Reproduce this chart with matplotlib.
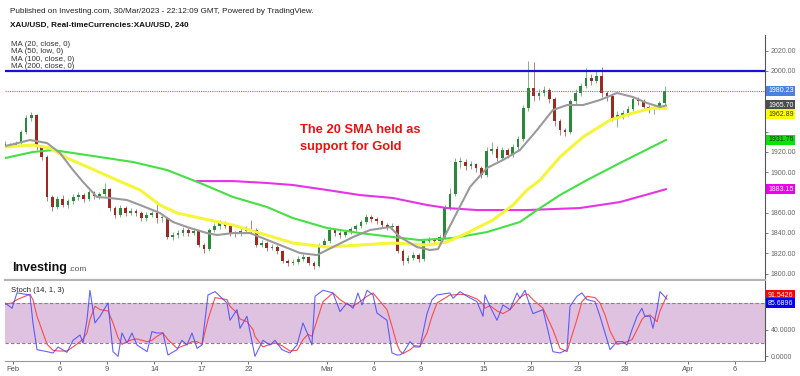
import numpy as np
import matplotlib.pyplot as plt

plt.rcParams['font.family'] = ['Liberation Sans', 'DejaVu Sans']

# XAU/USD candles, three per trading day (x axis = trading days since Feb 1)
first_open = 1927
closes = [1928, 1927, 1929, 1940, 1953, 1956, 1925, 1915, 1875, 1866,
          1874, 1868, 1872, 1875, 1877, 1874, 1880, 1876, 1878, 1883,
          1865, 1858, 1865, 1860, 1862, 1860, 1855, 1858, 1860, 1855,
          1855, 1836, 1838, 1840, 1843, 1840, 1842, 1828, 1824, 1843,
          1847, 1850, 1847, 1840, 1839, 1842, 1844, 1843, 1828, 1830,
          1825, 1826, 1822, 1812, 1810, 1811, 1814, 1816, 1810, 1807,
          1828, 1832, 1843, 1840, 1838, 1841, 1844, 1847, 1851, 1856,
          1854, 1852, 1848, 1846, 1847, 1822, 1812, 1815, 1818, 1814,
          1832, 1833, 1832, 1836, 1865, 1878, 1910, 1910, 1906, 1908,
          1904, 1897, 1921, 1923, 1914, 1922, 1917, 1925, 1933, 1963,
          1983, 1975, 1978, 1981, 1972, 1950, 1942, 1940, 1970, 1978,
          1985, 1993, 1990, 1995, 1978, 1975, 1952, 1956, 1958, 1962,
          1972, 1970, 1964, 1962, 1963, 1968, 1980.23]
highs = [1931, 1929, 1931, 1942, 1956, 1959, 1957, 1927, 1917, 1877,
         1876, 1877, 1874, 1878, 1880, 1879, 1882, 1881, 1880, 1889,
         1884, 1867, 1868, 1867, 1865, 1864, 1862, 1861, 1862, 1870,
         1859, 1856, 1841, 1843, 1846, 1845, 1845, 1843, 1830, 1845,
         1850, 1853, 1852, 1848, 1842, 1845, 1847, 1853, 1845, 1833,
         1832, 1829, 1828, 1823, 1814, 1814, 1817, 1819, 1817, 1812,
         1830, 1835, 1846, 1845, 1842, 1843, 1846, 1849, 1853, 1859,
         1858, 1856, 1853, 1850, 1850, 1848, 1824, 1818, 1821, 1820,
         1834, 1836, 1835, 1838, 1868, 1884, 1914, 1915, 1913, 1911,
         1909, 1906, 1925, 1930, 1926, 1925, 1924, 1928, 1936, 1966,
         2010, 2009, 1982, 1985, 1983, 1974, 1952, 1944, 1972, 1982,
         1988, 2003, 1997, 2001, 2004, 1980, 1977, 1960, 1961, 1965,
         1975, 1974, 1972, 1966, 1966, 1970, 1985]
lows = [1925, 1925, 1926, 1928, 1938, 1950, 1922, 1912, 1872, 1862,
        1864, 1866, 1865, 1869, 1873, 1871, 1872, 1874, 1874, 1876,
        1862, 1855, 1856, 1857, 1858, 1857, 1852, 1852, 1856, 1850,
        1851, 1834, 1833, 1835, 1837, 1837, 1838, 1826, 1820, 1822,
        1841, 1844, 1845, 1837, 1836, 1837, 1840, 1840, 1826, 1826,
        1822, 1823, 1819, 1810, 1807, 1808, 1809, 1812, 1808, 1804,
        1806, 1827, 1830, 1837, 1835, 1836, 1839, 1842, 1845, 1849,
        1851, 1849, 1845, 1843, 1844, 1820, 1808, 1810, 1813, 1811,
        1812, 1829, 1829, 1830, 1834, 1863, 1876, 1904, 1902, 1903,
        1900, 1894, 1895, 1918, 1911, 1912, 1914, 1915, 1922, 1931,
        1960, 1970, 1971, 1975, 1968, 1946, 1937, 1936, 1938, 1966,
        1975, 1983, 1986, 1988, 1974, 1970, 1950, 1945, 1952, 1955,
        1960, 1966, 1961, 1958, 1957, 1962, 1966]

# moving averages (trading day, price)
ma20_day = [-0.51, -0.19, 1.08, 2.17, 2.99, 3.82, 4.46, 5.35, 6.18, 7.26, 8.09,
            9.36, 10.19, 11.27, 12.36, 12.99, 14.01, 15.10, 15.73, 17.01, 18.28,
            19.36, 20.38, 21.66, 22.74, 24.01, 24.65, 25.73, 26.56, 27.07, 28.03,
            29.11, 30.19, 31.21, 32.29, 33.38, 34.39, 35.29, 36.31, 37.39, 38.47,
            39.49, 40.38, 41.21, 41.59]
ma20 = [1925.8, 1926.8, 1931.7, 1928.7, 1918.9, 1902.1, 1890.3, 1875.5, 1874.5,
        1872.5, 1867.6, 1859.7, 1850.8, 1844.9, 1839.9, 1838.0, 1839.9, 1839.9,
        1836.0, 1828.1, 1820.2, 1818.2, 1826.1, 1836.0, 1842.9, 1845.9, 1836.0,
        1826.1, 1823.2, 1824.1, 1852.8, 1885.4, 1904.1, 1912.0, 1921.8, 1941.6,
        1961.3, 1966.2, 1966.2, 1971.2, 1978.1, 1974.1, 1968.2, 1964.3, 1965.70]

ma50_day = [-0.51, 1.27, 2.36, 3.44, 4.90, 6.62, 8.09, 9.36, 10.45, 11.91, 14.01,
            15.73, 17.83, 20.0, 22.10, 24.20, 26.37, 27.64, 28.92, 30.57, 31.85,
            32.74, 33.57, 34.84, 36.31, 38.03, 39.49, 40.76, 41.59]
ma50 = [1924.8, 1926.8, 1923.8, 1913.9, 1904.1, 1892.2, 1882.4, 1867.6, 1859.7,
        1854.7, 1847.8, 1839.9, 1830.1, 1826.1, 1828.1, 1830.1, 1828.1, 1831.1,
        1839.9, 1852.8, 1867.6, 1882.4, 1892.2, 1914.9, 1934.7, 1951.4, 1958.3,
        1963.3, 1962.89]

ma100_day = [-0.51, 1.27, 2.55, 5.54, 7.64, 9.81, 11.91, 14.01, 16.18, 17.83, 20.0,
             22.10, 24.20, 25.92, 28.03, 30.19, 32.29, 33.38, 34.84, 36.56, 38.66,
             41.59]
ma100 = [1913.9, 1919.9, 1921.8, 1914.9, 1910.0, 1902.1, 1889.3, 1875.5, 1865.6,
         1854.7, 1844.9, 1839.9, 1836.0, 1833.0, 1835.0, 1840.9, 1850.8, 1862.6,
         1877.4, 1892.2, 1909.0, 1931.76]

ma200_day = [11.72, 14.01, 16.18, 17.83, 20.0, 22.10, 24.20, 26.37, 27.64, 29.55,
             32.74, 36.11, 38.66, 41.59]
ma200 = [1891.2, 1891.2, 1889.3, 1887.3, 1882.4, 1877.4, 1874.5, 1867.6, 1864.6,
         1862.6, 1862.6, 1864.6, 1870.5, 1883.15]

# stochastic (14, 1, 3)
stoch_day = [-0.51, -0.06, 0.25, 1.08, 1.27, 1.53, 2.17, 2.55, 2.87, 3.44,
             3.82, 4.27, 4.46, 4.71, 4.90, 5.22, 5.54, 6.05, 6.37, 6.69,
             6.94, 7.26, 7.58, 7.90, 8.54, 8.85, 9.17, 9.55, 9.87, 10.45,
             10.76, 11.08, 11.40, 11.72, 12.04, 12.42, 12.87, 13.63, 13.82, 14.27,
             14.46, 14.90, 15.29, 15.41, 15.92, 16.37, 16.69, 17.13, 17.64, 18.09,
             18.47, 18.79, 19.04, 19.24, 19.75, 20.38, 20.83, 21.27, 21.66, 21.97,
             22.23, 22.55, 22.93, 23.18, 23.82, 24.14, 24.46, 24.65, 24.84, 25.29,
             25.61, 25.92, 26.37, 26.69, 27.01, 27.83, 28.03, 28.47, 28.92, 29.55,
             29.94, 30.06, 30.38, 30.83, 31.21, 31.66, 32.10, 32.29, 32.61, 32.80,
             33.12, 33.76, 34.39, 34.84, 35.29, 35.48, 35.92, 36.24, 36.56, 37.07,
             37.39, 37.71, 38.03, 38.47, 38.85, 39.11, 39.43, 39.75, 40.06, 40.25,
             40.57, 40.76, 41.02, 41.21, 41.66]
stoch_k = [80, 72, 95, 92, 50, 10, 7, 5, 14, 6,
           24, 32, 20, 54, 99, 50, 60, 80, 7, 0,
           35, 20, 35, 17, 7, 37, 35, 35, 2, 10,
           24, 17, 35, 12, 17, 92, 97, 80, 54, 70,
           42, 60, 14, 0, 24, 17, 24, 10, 5, 17,
           50, 32, 17, 90, 99, 95, 67, 80, 72, 95,
           77, 99, 92, 65, 54, 5, 2, 2, 5, 22,
           14, 14, 64, 85, 92, 95, 87, 97, 90, 82,
           60, 92, 75, 54, 77, 70, 95, 87, 99, 85,
           64, 70, 7, 5, 10, 75, 90, 95, 85, 82,
           60, 35, 10, 22, 22, 17, 40, 60, 72, 60,
           60, 42, 70, 97, 85.6896]
stoch_d = [78, 80, 85, 93, 85, 60, 18, 9, 8, 8,
           14, 22, 26, 35, 55, 75, 70, 68, 50, 28,
           18, 22, 25, 26, 22, 24, 30, 35, 25, 12,
           15, 18, 22, 22, 18, 55, 88, 85, 75, 65,
           56, 52, 40, 30, 14, 18, 20, 16, 8, 9,
           25, 33, 30, 45, 82, 95, 85, 78, 75, 80,
           84, 90, 95, 88, 70, 45, 18, 8, 4, 10,
           16, 15, 35, 60, 80, 92, 92, 93, 92, 86,
           78, 72, 76, 68, 64, 70, 82, 88, 93, 93,
           85, 72, 40, 12, 7, 22, 55, 82, 90, 88,
           80, 62, 38, 18, 20, 22, 25, 40, 55, 60,
           62, 58, 52, 68, 91.5426]

tick_days = [0, 3, 6, 9, 12, 15, 20, 23, 26, 30, 33, 36, 39, 43, 46]
tick_names = ['Feb', '6', '9', '14', '17', '22', 'Mar', '6', '9', '15', '20', '23',
              '28', 'Apr', '6']

W, H = 800, 376
fig = plt.figure(figsize=(W / 100, H / 100), dpi=100)
ax = fig.add_axes([5 / W, 96 / H, 760 / W, 245 / H])
sx = fig.add_axes([5 / W, 15 / H, 760 / W, 80 / H])


def fx(x):
    return x / W


def fy(y):
    return 1 - y / H


# candles
c = np.array(closes, dtype=float)
o = np.r_[first_open, c[:-1]]
hi = np.maximum(np.array(highs, dtype=float), np.maximum(o, c))
lo = np.minimum(np.array(lows, dtype=float), np.minimum(o, c))
t = -0.5 + np.arange(len(c)) / 3
up = c >= o
body = np.where(np.abs(c - o) < 0.8, 0.8, c - o)
ax.vlines(t[up], lo[up], hi[up], color='#86b08c', lw=0.7, zorder=2)
ax.vlines(t[~up], lo[~up], hi[~up], color='#b58078', lw=0.7, zorder=2)
ax.bar(t[up], body[up], bottom=o[up], width=0.17, color='#2a8a3a', zorder=3)
ax.bar(t[~up], body[~up], bottom=o[~up], width=0.17, color='#9c2a20', zorder=3)

ax.plot(ma200_day, ma200, color='#e633e6', lw=1.5, zorder=4)
ax.plot(ma100_day, ma100, color='#44e044', lw=1.5, zorder=4)
ax.plot(ma50_day, ma50, color='#f5f53a', lw=2.2, zorder=4)
ax.plot(ma20_day, ma20, color='#9a9a9a', lw=1.5, zorder=5)

ax.axhline(2000, color='#1414d8', lw=1.6, zorder=6)
ax.axhline(closes[-1], color='#5a7ee6', lw=0.8, ls=(0, (1, 1)), zorder=6)

ax.set_xlim(-0.51, 47.9)
ax.set_ylim(1793.6, 2035.3)
ax.set_xticks([])
for s in ['left', 'top']:
    ax.spines[s].set_visible(False)
ax.spines['right'].set_color('#555555')
ax.spines['right'].set_linewidth(0.8)
ax.spines['bottom'].set_color('#b4b4b4')
ax.spines['bottom'].set_linewidth(1.6)


def price_axis(axis, ticks, fmt, tags, gap):
    # stack the last-value tags, then drop tick labels hidden under them
    spots = []
    last = None
    for val, fc, tc in tags:
        pos = val if last is None else min(val, last - gap)
        axis.text(1.004, pos, fmt % val, transform=axis.get_yaxis_transform(),
                  ha='left', va='center', fontsize=5, color=tc, zorder=10,
                  bbox=dict(boxstyle='square,pad=0.25', fc=fc, ec='none'))
        spots.append(pos)
        last = pos
    axis.yaxis.tick_right()
    axis.set_yticks(ticks)
    axis.set_yticklabels(['' if any(abs(v - p) < gap for p in spots) else fmt % v
                          for v in ticks])
    axis.tick_params(axis='y', labelsize=5, colors='#666666', length=2.5,
                     width=0.6, pad=1.5)


price_axis(ax, np.arange(1800, 2021, 20), '%.2f',
           [(closes[-1], '#4f7fdc', 'white'),
            (ma20[-1], '#4d4d4d', 'white'),
            (ma50[-1], '#ffff00', '#333333'),
            (ma100[-1], '#00e600', '#222222'),
            (ma200[-1], '#ee00ee', 'white')], 8.5)

# stochastic panel
sx.axhspan(20, 80, color='#dfc2e0', lw=0)
for lvl in (20, 80):
    sx.axhline(lvl, color='#8a7a8e', lw=0.8, ls=(0, (3, 2)))
sx.plot(stoch_day, stoch_d, color='#ff4a4a', lw=0.8)
sx.plot(stoch_day, stoch_k, color='#4848ff', lw=0.8, alpha=0.85)
sx.set_xlim(-0.51, 47.9)
sx.set_ylim(-7, 112.9)
price_axis(sx, [0, 40, 80], '%.4f',
           [(stoch_d[-1], '#ff0000', 'white'),
            (stoch_k[-1], '#0000ff', 'white')], 12)
sx.set_xticks(tick_days)
sx.set_xticklabels(tick_names)
sx.tick_params(axis='x', labelsize=5.5, colors='#555555', length=2, width=0.6, pad=1.5)
for s in ['left', 'top']:
    sx.spines[s].set_visible(False)
sx.spines['right'].set_color('#555555')
sx.spines['right'].set_linewidth(0.8)
sx.spines['bottom'].set_color('#999999')
sx.spines['bottom'].set_linewidth(0.8)

# texts
fig.text(fx(10), fy(11.5), 'Published on Investing.com, 30/Mar/2023 - 22:12:09 GMT, Powered by TradingView.',
         fontsize=5.9, color='#222222', va='center')
fig.text(fx(10), fy(25), 'XAU/USD, Real-timeCurrencies:XAU/USD, 240',
         fontsize=5.9, fontweight='bold', color='#111111', va='center')
for i, name in enumerate(['MA (20, close, 0)', 'MA (50, low, 0)',
                          'MA (100, close, 0)', 'MA (200, close, 0)']):
    fig.text(fx(11), fy(44.5 + 7.3 * i), name, fontsize=5.7, color='#333333', va='center')
fig.text(fx(11), fy(290.5), 'Stoch (14, 1, 3)', fontsize=5.6, color='#222222', va='center')
fig.text(fx(12), fy(271), 'Investing', fontsize=9, fontweight='bold', color='#111111',
         va='baseline')
fig.text(fx(68.5), fy(271), '.com', fontsize=6, color='#555555', va='baseline')
fig.text(fx(300), fy(130), 'The 20 SMA held as', fontsize=9.3, fontweight='bold',
         color='#ee1111', va='center')
fig.text(fx(300), fy(147), 'support for Gold', fontsize=9.3, fontweight='bold',
         color='#ee1111', va='center')

fig.savefig('out.png', dpi=100)
